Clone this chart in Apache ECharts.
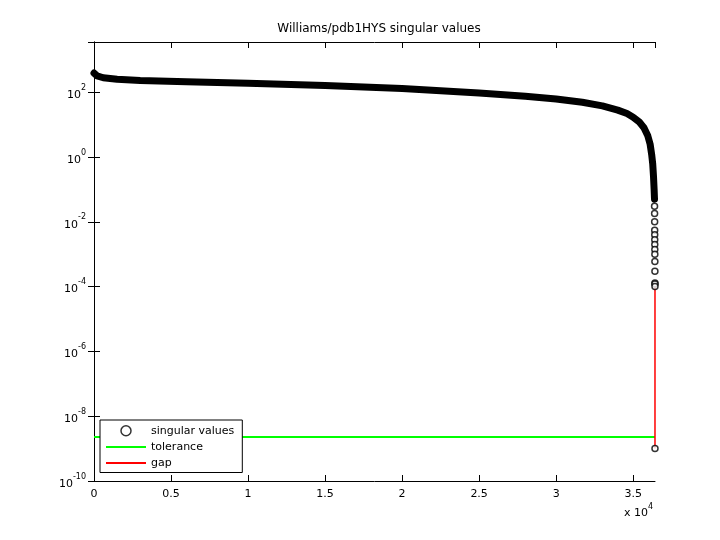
<!DOCTYPE html>
<html><head><meta charset="utf-8">
<script src="https://cdn.jsdelivr.net/npm/echarts@6/dist/echarts.min.js"></script>
<style>html,body{margin:0;padding:0;background:#fff}#c{width:720px;height:540px}</style>
</head><body><div id="c"></div>
<script>
// main singular value curve (x index, value)
const bandX = [1, 200, 600, 1500, 3000, 6000, 10000, 15000, 20000, 25000, 28000, 30000, 31700, 33000, 34000, 34600, 35000, 35400, 35700, 35950, 36100, 36200, 36270, 36320, 36360, 36385];
const bandY = [390, 320, 280, 250, 230, 210, 190, 160, 130, 95, 75, 62, 49, 38, 28, 22, 17, 12, 8, 4.5, 2.5, 1.2, 0.6, 0.25, 0.1, 0.05];
// sparse tail singular values
const tailX = [36388, 36391, 36394, 36397, 36399, 36401, 36403, 36405, 36407, 36409, 36411, 36413, 36414, 36415, 36416];
const tailY = [0.03, 0.018, 0.01, 0.0055, 0.004, 0.0028, 0.002, 0.0014, 0.001, 0.0006, 0.0003, 0.00013, 0.00012, 0.0001, 1e-9];
const tolerance = 2.3e-9;
const gapX = 36416;
const gapY = [1e-4, 1e-9];
const xMax = 36417;
const xTicks = [0, 0.5, 1, 1.5, 2, 2.5, 3, 3.5];

const chart = echarts.init(document.getElementById('c'));
const font = 'DejaVu Sans';
const lineIcon = 'path://M0,0L40,0L40,2L0,2Z';
chart.setOption({
  animation: false,
  title: {text: 'Williams/pdb1HYS singular values', left: 374, top: 18, textAlign: 'center',
          textStyle: {fontSize: 12, fontWeight: 'normal', fontFamily: font, color: '#000'}},
  grid: {left: 94, right: 65, top: 42, bottom: 59},
  legend: {left: 100, top: 420, orient: 'vertical', itemGap: 5, itemWidth: 40, itemHeight: 10,
           borderColor: '#000', borderWidth: 1, borderRadius: 0, padding: [5, 8, 4, 6], backgroundColor: '#fff',
           textStyle: {fontFamily: font, fontSize: 11, color: '#000'},
           data: [{name: 'singular values', icon: 'circle', itemStyle: {color: '#fff', borderColor: '#000', borderWidth: 1.5}},
                  {name: 'tolerance', icon: lineIcon, itemStyle: {color: '#00ff00'}},
                  {name: 'gap', icon: lineIcon, itemStyle: {color: '#ff0000'}}]},
  xAxis: [{type: 'value', min: 0, max: xMax, interval: 5000, position: 'bottom',
           axisLine: {lineStyle: {color: '#000'}}, axisTick: {inside: true, length: 6, lineStyle: {color: '#000'}},
           splitLine: {show: false},
           axisLabel: {fontFamily: font, fontSize: 11, color: '#000', margin: 8, showMaxLabel: false,
                       formatter: v => { const t = v / 1e4; return xTicks.includes(t) ? String(t) : ''; }}},
          {type: 'value', min: 0, max: xMax, interval: 5000, position: 'top',
           axisLine: {lineStyle: {color: '#000'}}, axisTick: {inside: true, length: 6, lineStyle: {color: '#000'}},
           axisLabel: {show: false}, splitLine: {show: false}}],
  yAxis: [{type: 'log', min: 1e-10, max: 3548, interval: 2, position: 'left',
           axisLine: {show: true, lineStyle: {color: '#000'}}, axisTick: {inside: true, length: 6, lineStyle: {color: '#000'}},
           minorTick: {show: false}, splitLine: {show: false},
           axisLabel: {showMaxLabel: false, fontFamily: font, fontSize: 11, color: '#000', margin: 8,
             formatter: v => { const e = Math.round(Math.log10(v)); return '{b|10}{s|' + e + '}'; },
             rich: {b: {fontSize: 11, fontFamily: font, color: '#000', padding: [6, 0, 0, 0]},
                    s: {fontSize: 8, fontFamily: font, color: '#000', verticalAlign: 'top', padding: [0, 0, 8, 0]}}}},
          {type: 'log', min: 1e-10, max: 3548, interval: 2, position: 'right',
           axisLine: {show: true, lineStyle: {color: '#000'}}, axisTick: {inside: true, length: 6, lineStyle: {color: '#000'}},
           axisLabel: {show: false}, splitLine: {show: false}}],
  series: [
    {name: 'band', type: 'line', data: bandX.map((x, i) => [x, bandY[i]]), symbol: 'none',
     lineStyle: {color: '#000', width: 7, join: 'round', cap: 'round'}, z: 3},
    {name: 'singular values', type: 'scatter', data: tailX.map((x, i) => [x, tailY[i]]),
     symbol: 'circle', symbolSize: 6, itemStyle: {color: '#fff', borderColor: '#000', borderWidth: 1.5}, z: 5},
    {name: 'tolerance', type: 'line', data: [[0, tolerance], [xMax, tolerance]], symbol: 'none',
     lineStyle: {color: '#00ff00', width: 2}, itemStyle: {color: '#00ff00'}, z: 2},
    {name: 'gap', type: 'line', data: gapY.map(y => [gapX, y]), symbol: 'none',
     lineStyle: {color: '#ff0000', width: 1.5}, itemStyle: {color: '#ff0000'}, z: 4}
  ],
  graphic: [{type: 'text', left: 624, top: 508, style: {text: 'x 10', font: '11px DejaVu Sans', fill: '#000'}},
            {type: 'text', left: 648, top: 503, style: {text: '4', font: '8px DejaVu Sans', fill: '#000'}}]
});
</script></body></html>
